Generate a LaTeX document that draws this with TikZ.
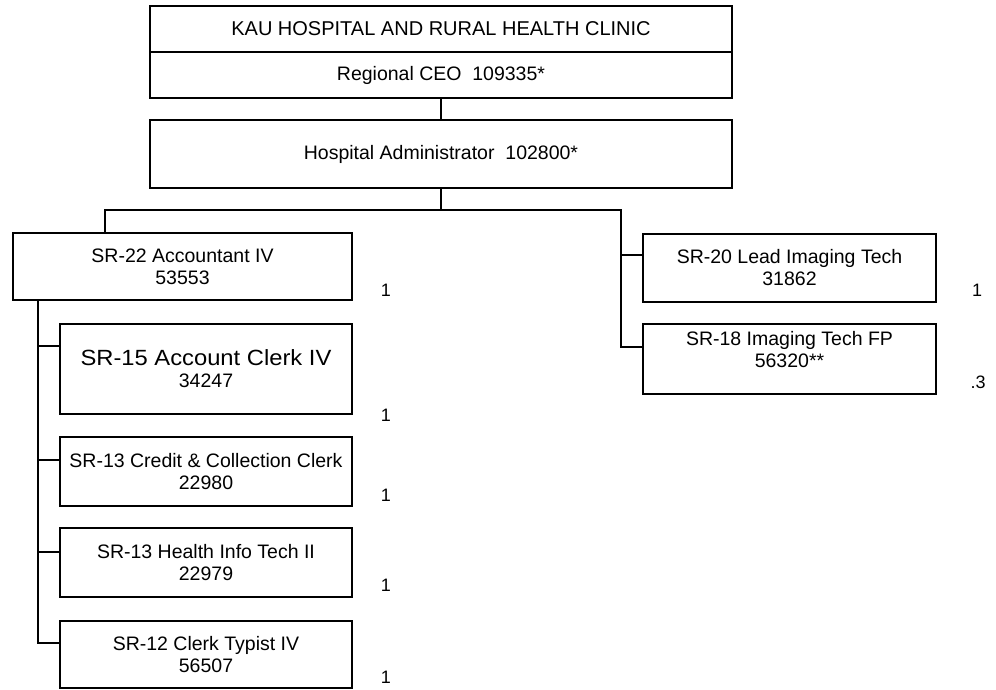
\documentclass[tikz,border=0pt]{standalone}
\usepackage{fontspec}
\setmainfont{Liberation Sans}
\begin{document}
\begin{tikzpicture}[x=1pt,y=-1pt,line width=1.1pt,
  box/.style={draw, inner sep=0pt, align=center, font=\fontsize{19.5}{22}\selectfont},
  txt/.style={inner sep=0pt, align=center, font=\fontsize{19.5}{22}\selectfont},
  num/.style={inner sep=0pt, font=\fontsize{18}{20}\selectfont},
  link/.style={draw, line width=1.1pt}]
\useasboundingbox (0,0) rectangle (996,689);
% top boxes
\node[box, minimum width=582pt, minimum height=46pt, font=\fontsize{20}{22}\selectfont] (title) at (441,29) {KAU HOSPITAL AND RURAL HEALTH CLINIC};
\node[box, minimum width=582pt, minimum height=46pt] (ceo) at (441,75) {Regional CEO\ \ 109335*};
\node[box, minimum width=582pt, minimum height=68pt] (admin) at (441,154) {Hospital Administrator\ \ 102800*};
% left branch
\node[box, minimum width=339pt, minimum height=67pt] (acct) at (182.5,266.5) {SR-22 Accountant IV\\53553};
\node[box, minimum width=292pt, minimum height=90pt] (clk) at (206,369) {\scalebox{1.08}[1]{\fontsize{22}{24}\selectfont SR-15 Account Clerk IV}\\34247};
\node[box, minimum width=292pt, minimum height=69pt] (cred) at (206,471.5) {SR-13 Credit \& Collection Clerk\\22980};
\node[box, minimum width=292pt, minimum height=69pt] (hit) at (206,562.5) {SR-13 Health Info Tech II\\22979};
\node[box, minimum width=292pt, minimum height=67pt] (typ) at (206,654.5) {SR-12 Clerk Typist IV\\56507};
% right branch
\node[box, minimum width=293pt, minimum height=68pt] (lead) at (789.5,268) {SR-20 Lead Imaging Tech\\31862};
\node[draw, inner sep=0pt, minimum width=293pt, minimum height=70pt] (fp) at (789.5,359) {};
\node[txt] (fptext) at ([yshift=9pt]fp.center) {SR-18 Imaging Tech FP\\56320**};
% FTE numbers
\node[num] (n1) at (386,290) {1};
\node[num] (n2) at (386,415) {1};
\node[num] (n3) at (386,495) {1};
\node[num] (n4) at (386,585) {1};
\node[num] (n5) at (386,677) {1};
\node[num] (n6) at (977,290) {1};
\node[num] (n7) at (978,382) {.3};
% connectors
\draw[link] (ceo.south) -- (admin.north);
\coordinate (bl) at (105,210);
\coordinate (br) at (621,210);
\draw[link] (admin.south) -- (admin.south |- bl);
\draw[link] (bl |- acct.north) -- (bl) -- (br) |- ([yshift=12pt]fp.west);
\draw[link] ([yshift=13pt]lead.west) -- ++(-22,0);
\coordinate (lt) at (38,300);
\draw[link] (lt) |- ([yshift=11.5pt]typ.west);
\draw[link] ([yshift=23pt]clk.west) -- ++(-22,0);
\draw[link] ([yshift=11.5pt]cred.west) -- ++(-22,0);
\draw[link] ([yshift=10.5pt]hit.west) -- ++(-22,0);
\end{tikzpicture}
\end{document}
